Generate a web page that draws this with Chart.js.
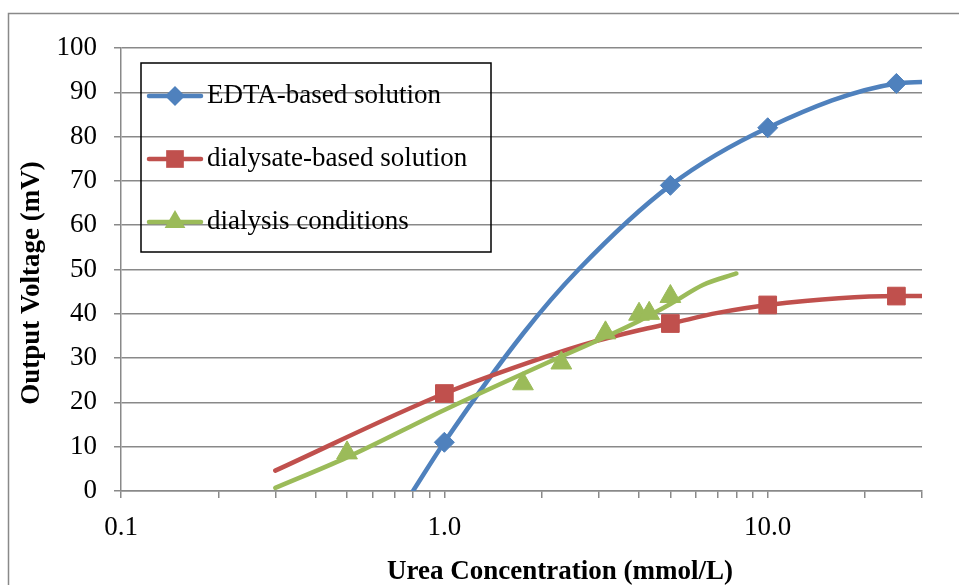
<!DOCTYPE html>
<html>
<head>
<meta charset="utf-8">
<script src="https://cdn.jsdelivr.net/npm/chart.js@4.4.1/dist/chart.umd.min.js"></script>
<style>
  html, body { margin: 0; padding: 0; background: #fff; }
  canvas { display: block; }
</style>
</head>
<body>
<canvas id="chart" width="959" height="585"></canvas>
<script>
// Series names, in legend order
const seriesNames = ['EDTA-based solution', 'dialysate-based solution', 'dialysis conditions'];

// Smoothed curves
const edtaLineX = [0.8, 1.0, 1.75, 2.6, 5, 10, 25, 30];
const edtaLineY = [0, 11, 35.5, 50, 69, 82, 92, 92.3];
const dialysateLineX = [0.3, 1.0, 2.0, 2.9, 4.0, 5.0, 7.0, 10, 25, 30];
const dialysateLineY = [4.6, 22, 30, 33.7, 36.3, 37.8, 40.2, 42, 44, 44];
const dialysisLineX = [0.3, 0.5, 1.0, 2.0, 3.0, 4.0, 5.0, 6.3, 8.0];
const dialysisLineY = [0.7, 7.6, 18.3, 28.4, 34.1, 38.4, 42.2, 46.5, 49.1];

// Measured points (markers)
const edtaPointX = [1.0, 5.0, 10, 25];
const edtaPointY = [11, 69, 82, 92];
const dialysatePointX = [1.0, 5.0, 10, 25];
const dialysatePointY = [22, 37.8, 42, 44];
const dialysisPointX = [0.5, 1.75, 2.3, 3.15, 4.0, 4.3, 5.0];
const dialysisPointY = [8.6, 24.2, 28.9, 35.7, 39.9, 40.1, 43.9];

// Axis ticks
const xTickValues = [0.1, 0.2, 0.3, 0.4, 0.5, 0.6, 0.7, 0.8, 0.9,
                     1, 2, 3, 4, 5, 6, 7, 8, 9, 10, 20, 30];
const xMajor = [0.1, 1, 10];
const xTickLabels = ['0.1', '1.0', '10.0'];

const colors = ['#4F81BD', '#C0504D', '#9BBB59'];
const markerStyles = ['rectRot', 'rect', 'triangle'];
const markerRadius = [10, 12.5, 12];

const gridGray = '#898989';
const serif = "'Liberation Serif', 'DejaVu Serif', serif";
const labelSize = 27;

function toPoints(xs, ys) {
    return xs.map((x, i) => ({ x: x, y: ys[i] }));
}

function lineSet(i, xs, ys) {
    return {
        label: seriesNames[i],
        data: toPoints(xs, ys),
        showLine: true,
        borderColor: colors[i],
        backgroundColor: colors[i],
        borderWidth: 4.5,
        pointRadius: 0,
        cubicInterpolationMode: 'monotone',
        borderCapStyle: 'round',
        order: 10 - 2 * i
    };
}

function markerSet(i, xs, ys) {
    return {
        label: seriesNames[i] + ' points',
        data: toPoints(xs, ys),
        showLine: false,
        pointStyle: markerStyles[i],
        pointRadius: markerRadius[i],
        pointBackgroundColor: colors[i],
        pointBorderColor: colors[i],
        pointBorderWidth: 1,
        order: 9 - 2 * i
    };
}

// Draw one legend marker by hand
function drawMarker(ctx, i, x, y) {
    const r = markerRadius[i];
    ctx.beginPath();
    if (markerStyles[i] === 'rectRot') {
        ctx.moveTo(x - r, y); ctx.lineTo(x, y - r);
        ctx.lineTo(x + r, y); ctx.lineTo(x, y + r);
    } else if (markerStyles[i] === 'rect') {
        const s = r * Math.SQRT1_2;
        ctx.rect(x - s, y - s, 2 * s, 2 * s);
    } else {
        ctx.moveTo(x, y - r);
        ctx.lineTo(x + r * 0.866, y + r / 2);
        ctx.lineTo(x - r * 0.866, y + r / 2);
    }
    ctx.closePath();
    ctx.fillStyle = colors[i];
    ctx.fill();
}

const decor = {
    id: 'decor',
    beforeDraw(chart) {
        const ctx = chart.ctx;
        ctx.save();
        ctx.fillStyle = '#fff';
        ctx.fillRect(0, 0, chart.width, chart.height);
        // outer chart frame
        ctx.strokeStyle = gridGray;
        ctx.lineWidth = 1.5;
        ctx.beginPath();
        ctx.moveTo(8.5, chart.height + 5);
        ctx.lineTo(8.5, 13.5);
        ctx.lineTo(chart.width + 5, 13.5);
        ctx.stroke();
        ctx.restore();
    },
    afterDraw(chart) {
        const ctx = chart.ctx;
        ctx.save();
        // axis titles
        ctx.fillStyle = '#000';
        ctx.font = "bold 27px " + serif;
        ctx.textAlign = 'center';
        ctx.textBaseline = 'alphabetic';
        ctx.fillText('Urea Concentration (mmol/L)', 560, 579);
        ctx.translate(39, 283);
        ctx.rotate(-Math.PI / 2);
        ctx.fillText('Output Voltage (mV)', 0, 0);
        ctx.restore();

        // legend box
        ctx.save();
        ctx.strokeStyle = '#000';
        ctx.lineWidth = 1.5;
        ctx.strokeRect(141, 63, 350, 189);
        const rows = [96, 159, 222];
        ctx.font = labelSize + "px " + serif;
        ctx.textAlign = 'left';
        ctx.textBaseline = 'middle';
        seriesNames.forEach((name, i) => {
            const y = rows[i];
            ctx.strokeStyle = colors[i];
            ctx.lineWidth = 4.5;
            ctx.lineCap = 'round';
            ctx.beginPath();
            ctx.moveTo(149, y);
            ctx.lineTo(201, y);
            ctx.stroke();
            drawMarker(ctx, i, 175, y);
            ctx.fillStyle = '#000';
            ctx.fillText(name, 207, y);
        });
        ctx.restore();
    }
};

new Chart(document.getElementById('chart'), {
    type: 'scatter',
    data: {
        datasets: [
            lineSet(0, edtaLineX, edtaLineY),
            markerSet(0, edtaPointX, edtaPointY),
            lineSet(1, dialysateLineX, dialysateLineY),
            markerSet(1, dialysatePointX, dialysatePointY),
            lineSet(2, dialysisLineX, dialysisLineY),
            markerSet(2, dialysisPointX, dialysisPointY)
        ]
    },
    options: {
        responsive: false,
        animation: false,
        layout: { padding: { left: 0, right: 37, top: 48, bottom: 0 } },
        plugins: {
            legend: { display: false },
            tooltip: { enabled: false }
        },
        scales: {
            x: {
                type: 'logarithmic',
                min: 0.1,
                max: 30,
                afterBuildTicks: (scale) => {
                    scale.ticks = xTickValues.map(v => ({ value: v }));
                },
                afterFit: (scale) => { scale.height = 94; },
                grid: {
                    drawOnChartArea: false,
                    drawTicks: true,
                    tickLength: 7,
                    color: gridGray,
                    lineWidth: 1.5
                },
                border: { display: true, color: gridGray, width: 1.5 },
                ticks: {
                    autoSkip: false,
                    maxRotation: 0,
                    minRotation: 0,
                    padding: 14,
                    color: '#000',
                    font: { family: serif, size: labelSize },
                    callback: (v, i) => {
                        const k = xMajor.indexOf(xTickValues[i]);
                        return k >= 0 ? xTickLabels[k] : '';
                    }
                }
            },
            y: {
                min: 0,
                max: 100,
                afterFit: (scale) => { scale.width = 121; },
                grid: {
                    color: gridGray,
                    lineWidth: 1.5,
                    tickLength: 7
                },
                border: { display: true, color: gridGray, width: 1.5 },
                ticks: {
                    stepSize: 10,
                    padding: 17,
                    color: '#000',
                    font: { family: serif, size: labelSize }
                }
            }
        }
    },
    plugins: [decor]
});
</script>
</body>
</html>
